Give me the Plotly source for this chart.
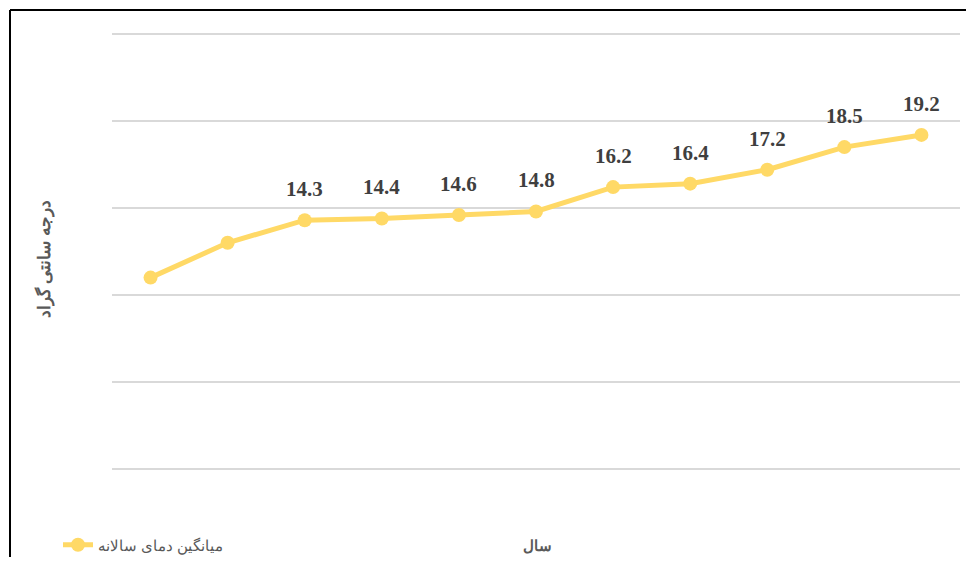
import plotly.graph_objects as go

categories = ["1", "2", "3", "4", "5", "6", "7", "8", "9", "10", "11"]
values = [11.0, 13.0, 14.3, 14.4, 14.6, 14.8, 16.2, 16.4, 17.2, 18.5, 19.2]
labels = ["", "", "14.3", "14.4", "14.6", "14.8", "16.2", "16.4", "17.2", "18.5", "19.2"]
y_ticks = [0, 5, 10, 15, 20, 25]
series_name = "میانگین دمای سالانه"
x_title = "سال"
y_title = "درجه سانتی گراد"

OFF = 8  # default page body margin
W, H = 974 - 2 * OFF, 565 - 2 * OFF
L, T = 112 - OFF, 34 - OFF
R = W - (960 - OFF)
B = H - (469 - OFF)
pw, ph = W - L - R, H - T - B
y_min, y_max = y_ticks[0], y_ticks[-1]


def px_x(p):  # page pixel -> paper coord
    return (p - OFF - L) / pw


def px_y(p):
    return (H - B - (p - OFF)) / ph


fig = go.Figure()
fig.add_trace(go.Scatter(
    x=categories, y=values, mode="lines+markers",
    name=series_name,
    line=dict(color="#FFD966", width=5),
    marker=dict(color="#FFD966", size=14),
))

annotations = [
    dict(x=i, y=v, text=t, xref="x", yref="y", showarrow=False, yshift=31,
         xanchor="center", yanchor="middle",
         font=dict(family="Liberation Serif", size=21, color="#3F3F3F", weight="bold"))
    for i, (v, t) in enumerate(zip(values, labels)) if t
]
annotations += [
    dict(text=x_title, xref="paper", yref="paper", x=px_x(537), y=px_y(545),
         showarrow=False, xanchor="center", yanchor="middle",
         font=dict(family="Noto Sans", size=15, color="#595959", weight="bold")),
    dict(text=y_title, xref="paper", yref="paper", x=px_x(44), y=px_y(259),
         showarrow=False, xanchor="center", yanchor="middle", textangle=-90,
         font=dict(family="Noto Sans", size=17, color="#595959", weight="bold")),
]

shapes = [
    dict(type="line", xref="paper", yref="paper", x0=0, x1=1,
         y0=(v - y_min) / (y_max - y_min), y1=(v - y_min) / (y_max - y_min),
         line=dict(color="#D9D9D9", width=2), layer="below")
    for v in y_ticks
]
shapes += [
    dict(type="line", xref="paper", yref="paper", x0=px_x(10), x1=px_x(10),
         y0=px_y(10), y1=px_y(580), line=dict(color="black", width=2)),
    dict(type="line", xref="paper", yref="paper", x0=px_x(10), x1=px_x(990),
         y0=px_y(10), y1=px_y(10), line=dict(color="black", width=2)),
]

fig.update_layout(
    width=W, height=H,
    margin=dict(l=L, r=R, t=T, b=B, autoexpand=False),
    paper_bgcolor="white", plot_bgcolor="rgba(0,0,0,0)",
    showlegend=True,
    legend=dict(orientation="h", x=px_x(58), y=px_y(545), xanchor="left", yanchor="middle",
                font=dict(family="Noto Sans", size=15, color="#595959"),
                bgcolor="rgba(0,0,0,0)"),
    xaxis=dict(type="category", range=[-0.5, len(categories) - 0.5],
               showticklabels=False, showgrid=False, zeroline=False,
               showline=False, ticks=""),
    yaxis=dict(range=[y_min, y_max], tickvals=y_ticks, showticklabels=False,
               showgrid=False, zeroline=False, showline=False, ticks=""),
    annotations=annotations,
    shapes=shapes,
)

fig.write_html("out.html")
